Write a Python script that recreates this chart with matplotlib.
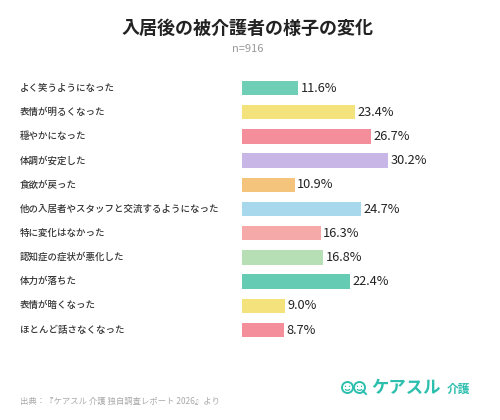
import matplotlib
matplotlib.use("Agg")
import matplotlib.pyplot as plt
from matplotlib.patches import Ellipse, Arc

plt.rcParams['font.family'] = ['Noto Sans CJK JP', 'DejaVu Sans']

categories = ["よく笑うようになった", "表情が明るくなった", "穏やかになった", "体調が安定した",
              "食欲が戻った", "他の入居者やスタッフと交流するようになった", "特に変化はなかった",
              "認知症の症状が悪化した", "体力が落ちた", "表情が暗くなった", "ほとんど話さなくなった"]
values = [11.6, 23.4, 26.7, 30.2, 10.9, 24.7, 16.3, 16.8, 22.4, 9.0, 8.7]
colors = ["#6fcfb6", "#f4e27c", "#f38e9a", "#c7b6e6", "#f5c47c", "#a8d8ec",
          "#f5a9a8", "#b6dfb6", "#66cbb3", "#f4e27c", "#f38e9a"]
title = "入居後の被介護者の様子の変化"
subtitle = "n=916"
source = "出典：『ケアスル 介護 独自調査レポート 2026』より"

W, H = 500, 420
fig = plt.figure(figsize=(W/100, H/100), dpi=100)
fig.patch.set_facecolor("white")

top_px, bot_px = 75.9, 342.1
ax = fig.add_axes([242/W, (H-bot_px)/H, 50*4.83/W, (bot_px-top_px)/H])
ypos = list(range(len(categories)))
ax.barh(ypos, values, height=0.6, color=colors)
ax.set_xlim(0, 50)
ax.set_ylim(len(categories)-0.5, -0.5)
ax.axis("off")

for y, v, c in zip(ypos, values, categories):
    ax.text(v + 0.5, y, f"{v:.1f}%", va="center", ha="left", fontsize=9.2, color="#222222")
    ax.annotate(c, xy=(20/W, 0), xycoords=("figure fraction", "data"),
                xytext=(20/W, y), textcoords=("figure fraction", "data"),
                va="center", ha="left", fontsize=6.8, color="#333333", fontweight="medium")

fig.text(248/W, 1-28/H, title, ha="center", va="center", fontsize=13, fontweight="bold", color="#222222")
fig.text(248/W, 1-49/H, subtitle, ha="center", va="center", fontsize=8, color="#999999")
fig.text(20/W, 1-401/H, source, ha="left", va="center", fontsize=6.0, color="#aaaaaa")

teal = "#2dbfae"
# logo faces
cy = 387.5
for cx in (347.5, 359.5):
    fig.patches.append(Ellipse((cx/W, 1-cy/H), 11/W, 11/H, transform=fig.transFigure,
                               fill=False, edgecolor=teal, linewidth=1.4))
    for ex in (-2, 2):
        fig.patches.append(Ellipse(((cx+ex)/W, 1-(cy-1.2)/H), 1.4/W, 1.4/H, transform=fig.transFigure,
                                   color=teal, linewidth=0))
    fig.patches.append(Arc((cx/W, 1-(cy+0.8)/H), 5/W, 4/H, theta1=200, theta2=340,
                           transform=fig.transFigure, color=teal, linewidth=0.9))
fig.lines.append(plt.Line2D([(359.5+3.5)/W, (359.5+6.5)/W], [1-(cy+3.5)/H, 1-(cy+6.5)/H],
                            transform=fig.transFigure, color=teal, linewidth=1.4))
fig.text(371/W, 1-cy/H, "ケアスル", ha="left", va="center", fontsize=12.5, color=teal, fontweight="bold")
fig.text(447/W, 1-(cy+1.5)/H, "介護", ha="left", va="center", fontsize=8.5, color=teal, fontweight="bold")

fig.savefig("out.png", dpi=100, facecolor="white")
